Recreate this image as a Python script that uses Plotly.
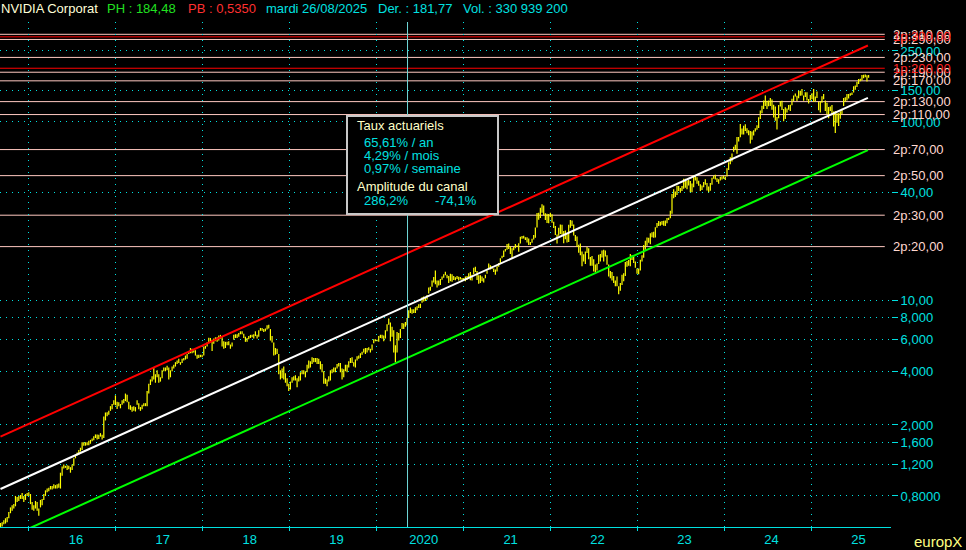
import math
import pandas as pd
import plotly.graph_objects as go

# NVIDIA weekly lows / highs (adjusted), one block per year
lows = [
    # 2015 (from 4 Sep)
    0.535, 0.54, 0.555, 0.56, 0.57, 0.60, 0.64, 0.66, 0.68, 0.70, 0.74, 0.75, 0.77, 0.77, 0.74, 0.76, 0.80,
    # 2016
    0.80, 0.72, 0.67, 0.66, 0.68, 0.66, 0.62, 0.69, 0.71, 0.76, 0.80, 0.84, 0.85, 0.87, 0.87, 0.88, 0.88, 0.88,
    0.89, 0.88, 1.04, 1.14, 1.15, 1.12, 1.13, 1.08, 1.12, 1.18, 1.30, 1.35, 1.36, 1.42, 1.45, 1.53, 1.53, 1.54,
    1.54, 1.57, 1.62, 1.64, 1.69, 1.66, 1.67, 1.72, 1.66, 1.69, 2.12, 2.24, 2.28, 2.40, 2.45, 2.60, 2.58,
    # 2017
    2.46, 2.55, 2.48, 2.60, 2.65, 2.72, 2.68, 2.45, 2.43, 2.37, 2.40, 2.38, 2.60, 2.45, 2.40, 2.45, 2.55,
    2.55, 2.55, 3.00, 3.35, 3.50, 3.60, 3.45, 3.70, 3.45, 3.50, 3.65, 4.00, 4.00, 4.05, 3.60, 3.70, 4.00,
    4.15, 4.25, 4.40, 4.45, 4.35, 4.45, 4.60, 4.65, 4.70, 5.00, 5.05, 5.05, 5.10, 4.90, 4.70, 4.75, 4.80, 4.80,
    # 2018
    4.90, 5.35, 5.50, 5.75, 5.85, 5.20, 5.70, 5.90, 5.85, 5.95, 6.10, 5.50, 5.35, 5.40, 5.60, 5.60, 5.35,
    5.50, 6.00, 6.15, 6.15, 6.25, 6.45, 6.45, 6.15, 5.85, 5.85, 6.05, 6.15, 6.20, 6.10, 6.30, 6.10, 6.25, 6.75,
    6.75, 6.65, 6.70, 6.85, 6.95, 5.95, 5.80, 4.90, 4.95, 5.00, 3.85, 3.60, 3.65, 3.60, 3.45, 3.30, 3.10,
    # 2019
    3.16, 3.45, 3.55, 3.55, 3.25, 3.50, 3.55, 3.85, 3.85, 3.70, 3.95, 4.15, 4.20, 4.40, 4.50, 4.50, 4.40,
    4.40, 4.10, 3.95, 3.40, 3.40, 3.30, 3.50, 3.55, 3.90, 3.95, 3.95, 4.15, 4.25, 3.95, 3.60, 3.70, 4.00, 3.95,
    4.20, 4.45, 4.45, 4.25, 4.20, 4.60, 4.70, 4.75, 4.95, 5.10, 5.00, 5.10, 5.25, 5.10, 5.25, 5.75, 5.90,
    # 2020
    5.90, 5.85, 6.15, 6.10, 5.90, 6.10, 6.70, 7.30, 5.90, 6.25, 5.10, 4.50, 5.10, 5.95, 6.15, 6.90, 6.90,
    7.10, 7.25, 7.95, 8.50, 8.40, 8.50, 8.50, 8.80, 9.05, 9.05, 9.70, 9.85, 9.90, 10.10, 10.90, 11.30, 11.90, 12.60,
    12.30, 11.80, 12.10, 12.20, 13.05, 13.40, 13.80, 13.30, 12.50, 12.80, 12.70, 13.00, 12.95, 13.15, 12.90, 13.10, 12.95,
    # 2021
    12.95, 12.80, 13.00, 13.20, 12.95, 12.90, 14.00, 14.40, 13.00, 12.40, 12.50, 12.80, 12.60,
    13.30, 14.10, 14.90, 14.90, 15.00, 14.40, 13.90, 14.50, 15.40, 16.00, 17.20, 17.50, 18.80,
    19.20, 19.40, 18.20, 17.20, 19.10, 19.60, 19.90, 18.70, 20.80, 22.10, 22.20, 21.80, 21.10,
    20.40, 20.40, 21.00, 21.90, 22.40, 25.60, 28.30, 28.90, 31.00, 30.00, 28.20, 27.10, 27.00, 29.30,
    # 2022
    27.20, 25.40, 23.20, 20.80, 23.00, 23.50, 23.30, 20.90, 22.00, 21.10, 21.20, 25.50,
    26.10, 23.10, 21.50, 19.90, 18.50, 17.90, 15.50, 16.50, 16.00, 18.40, 17.00, 15.60, 15.60,
    14.50, 14.40, 14.70, 16.00, 16.50, 17.40, 16.50, 17.60, 15.80, 13.60, 13.30, 12.90, 12.50, 12.00,
    12.00, 10.80, 11.30, 12.20, 12.80, 13.70, 15.40, 15.60, 15.50, 16.80, 16.20, 15.20, 14.10,
    # 2023
    14.00, 14.70, 16.50, 17.30, 19.20, 20.20, 21.00, 20.60, 22.60, 22.40, 22.50, 25.50, 26.10,
    26.20, 26.50, 26.20, 26.10, 27.00, 28.20, 28.80, 30.60, 37.30, 38.00, 39.00, 41.00, 40.10,
    41.00, 42.20, 42.70, 42.00, 44.00, 40.40, 40.30, 43.00, 47.00, 45.00, 43.90, 41.00, 41.50,
    43.00, 44.50, 41.30, 40.30, 41.10, 44.50, 48.00, 47.50, 46.00, 45.00, 47.00, 47.50, 48.00,
    # 2024
    47.30, 49.40, 53.70, 58.00, 60.00, 68.00, 70.00, 66.30, 77.60, 82.00, 85.00, 85.10, 89.00,
    86.30, 84.20, 75.60, 79.50, 84.00, 88.50, 90.50, 92.60, 104.00, 111.70, 118.00, 123.00, 118.00,
    122.60, 123.00, 117.00, 106.00, 101.40, 90.70, 105.00, 122.00, 116.70, 100.90, 104.00, 113.00, 117.00,
    115.00, 124.00, 131.00, 139.00, 131.00, 135.80, 140.00, 140.80, 131.30, 138.00, 132.00, 126.90, 132.00,
    # 2025 (to 26 Aug)
    134.00, 129.50, 130.00, 136.00, 116.30, 113.00, 128.00, 134.00, 115.00, 110.50, 104.80, 115.00, 109.10,
    94.30, 86.60, 98.90, 95.00, 104.20, 110.50, 123.00, 129.90, 132.00, 135.40, 140.00, 141.50, 146.00,
    151.50, 157.00, 163.00, 169.00, 171.00, 176.00, 178.00, 168.80, 176.80,
]

highs = [
    # 2015
    0.565, 0.57, 0.585, 0.60, 0.61, 0.65, 0.69, 0.71, 0.72, 0.80, 0.79, 0.80, 0.81, 0.83, 0.80, 0.82, 0.83,
    # 2016
    0.84, 0.82, 0.74, 0.71, 0.75, 0.74, 0.68, 0.76, 0.77, 0.82, 0.86, 0.88, 0.89, 0.91, 0.91, 0.93, 0.92, 0.93,
    0.94, 1.08, 1.17, 1.20, 1.18, 1.19, 1.18, 1.16, 1.20, 1.30, 1.36, 1.40, 1.45, 1.49, 1.60, 1.60, 1.60, 1.60,
    1.63, 1.65, 1.68, 1.73, 1.77, 1.77, 1.76, 1.80, 1.76, 2.23, 2.35, 2.36, 2.40, 2.55, 2.62, 2.75, 2.93,
    # 2017
    2.70, 2.68, 2.62, 2.75, 2.80, 3.00, 2.95, 2.70, 2.58, 2.53, 2.55, 2.52, 2.75, 2.65, 2.52, 2.60, 2.65,
    2.65, 3.10, 3.40, 3.60, 3.75, 4.20, 3.85, 4.05, 3.85, 3.70, 4.05, 4.20, 4.20, 4.30, 4.20, 4.05, 4.25,
    4.35, 4.50, 4.60, 4.70, 4.50, 4.70, 4.75, 4.90, 5.00, 5.15, 5.40, 5.35, 5.25, 5.25, 4.95, 4.95, 4.95, 4.95,
    # 2018
    5.50, 5.55, 5.80, 6.17, 6.15, 6.00, 6.10, 6.20, 6.20, 6.35, 6.40, 6.30, 5.90, 5.85, 5.85, 5.90, 5.65,
    5.80, 6.40, 6.45, 6.45, 6.55, 6.70, 6.70, 6.50, 6.25, 6.15, 6.30, 6.40, 6.40, 6.45, 6.70, 6.40, 6.80, 7.00,
    7.00, 6.90, 6.95, 7.25, 7.30, 6.90, 6.30, 5.80, 5.40, 5.35, 5.00, 4.05, 4.15, 4.25, 3.90, 3.65, 3.40,
    # 2019
    3.50, 3.70, 3.75, 3.80, 3.65, 3.75, 3.95, 4.05, 4.05, 4.00, 4.35, 4.60, 4.55, 4.80, 4.75, 4.75, 4.75,
    4.70, 4.55, 4.40, 4.00, 3.65, 3.60, 3.75, 4.05, 4.10, 4.20, 4.20, 4.40, 4.45, 4.45, 4.15, 4.10, 4.35, 4.35,
    4.55, 4.75, 4.80, 4.50, 4.65, 4.85, 4.90, 5.05, 5.15, 5.35, 5.40, 5.40, 5.45, 5.35, 5.65, 6.05, 6.05,
    # 2020
    6.00, 6.30, 6.40, 6.40, 6.35, 6.80, 7.35, 7.90, 7.50, 7.10, 6.80, 5.60, 6.65, 6.55, 6.90, 7.45, 7.40,
    7.55, 7.95, 8.80, 9.10, 8.90, 8.90, 9.15, 9.25, 9.50, 9.55, 10.40, 10.50, 10.45, 10.70, 11.80, 11.90, 12.90, 13.50,
    14.70, 12.90, 12.90, 13.15, 13.60, 14.00, 14.45, 13.90, 13.70, 14.10, 14.00, 13.70, 13.45, 13.70, 13.55, 13.50, 13.35,
    # 2021
    13.35, 13.60, 13.70, 14.20, 14.40, 13.90, 15.20, 15.40, 14.60, 13.80, 13.80, 13.60, 13.30,
    13.90, 14.70, 16.10, 15.70, 15.50, 15.10, 14.90, 15.50, 16.20, 17.20, 17.80, 19.00, 19.40,
    20.70, 20.80, 20.00, 19.60, 19.90, 20.70, 20.30, 20.90, 22.70, 22.90, 23.00, 22.60, 22.60,
    22.20, 21.20, 22.10, 23.20, 25.60, 30.90, 31.00, 33.00, 34.60, 34.00, 30.80, 30.60, 30.50, 31.00,
    # 2022
    30.40, 27.60, 26.10, 23.40, 25.50, 26.60, 26.50, 24.50, 24.60, 23.50, 26.50, 28.20,
    28.00, 26.60, 23.20, 22.80, 20.50, 20.80, 18.80, 18.10, 18.80, 19.90, 19.60, 17.50, 17.70,
    17.00, 15.90, 16.10, 18.00, 18.20, 19.00, 19.20, 19.00, 17.90, 15.90, 14.60, 14.40, 13.70, 12.90,
    13.60, 12.00, 12.50, 13.90, 14.20, 16.40, 16.60, 16.80, 18.20, 17.90, 17.80, 16.50, 15.10,
    # 2023
    15.10, 16.90, 17.90, 20.40, 21.60, 22.50, 22.40, 23.80, 24.10, 24.20, 25.70, 27.10, 27.80,
    27.60, 27.80, 27.90, 28.00, 28.90, 29.00, 31.80, 39.50, 41.90, 40.80, 43.90, 43.80, 42.60,
    43.80, 48.00, 48.00, 47.00, 47.30, 46.60, 45.20, 50.20, 49.80, 49.00, 46.80, 44.70, 44.00,
    46.00, 47.70, 45.40, 43.50, 45.40, 48.70, 50.00, 50.50, 48.30, 47.70, 49.30, 49.60, 49.90,
    # 2024
    49.50, 55.00, 59.50, 63.40, 66.50, 72.50, 74.60, 82.30, 82.40, 97.40, 91.90, 95.10, 97.00,
    92.20, 89.90, 89.00, 88.40, 89.90, 92.30, 95.80, 106.30, 115.80, 123.40, 131.80, 140.80, 131.40,
    131.90, 136.20, 133.40, 124.70, 122.00, 106.70, 124.40, 131.00, 131.30, 118.00, 120.70, 119.00, 124.40,
    125.00, 135.00, 140.90, 144.40, 140.00, 149.80, 149.70, 152.90, 140.60, 146.50, 146.50, 134.50, 141.40,
    # 2025
    144.90, 153.10, 138.80, 148.00, 129.80, 130.40, 139.50, 143.40, 131.70, 128.00, 121.20, 122.20, 124.40,
    114.50, 115.10, 112.00, 111.90, 114.80, 118.70, 136.00, 137.40, 143.50, 143.40, 145.00, 146.20, 158.70,
    160.00, 167.90, 174.20, 174.70, 183.30, 183.90, 184.48, 183.00, 183.20,
]

last_close = 181.77
volume = "330 939 200"
quote_day = "mardi 26/08/2025"

# regression channel
chan_dates = ["2015-09-04", "2025-08-26"]
chan_mid = [0.875, 136.5]
taux_an = 65.61          # % per year
amplitude = 286.2        # % low -> high of channel

# horizontal levels drawn by the user
levels_2p = [20, 30, 50, 70, 110, 130, 170, 190, 230, 290, 310]
levels_1p = [200, 300]

# price scale
grid_vals = [0.8, 1.2, 1.6, 2, 4, 6, 8, 10, 40, 100, 150, 250]
grid_text = ["0,8000", "1,200", "1,600", "2,000", "4,000", "6,000", "8,000",
             "10,00", "40,00", "100,00", "150,00", "250,00"]

year_starts = [f"{y}-01-01" for y in range(2016, 2026)]
year_label_pos = [f"{y}-07-17" for y in range(2016, 2026)]
year_labels = ["16", "17", "18", "19", "2020", "21", "22", "23", "24", "25"]

CYAN = "#00e0e0"
PINK = "#ffc8c0"
FONT = "Arial, Liberation Sans, sans-serif"


def fr(v, nd=2):
    return f"{v:.{nd}f}".replace(".", ",")


week_dates = pd.date_range("2015-09-04", periods=len(lows), freq="W-FRI")

bar_x, bar_y = [], []
for d, lo, hi in zip(week_dates, lows, highs):
    bar_x += [d, d, None]
    bar_y += [lo, hi, None]

half = math.sqrt(1 + amplitude / 100)
chan_up = [v * half for v in chan_mid]
chan_dn = [v / half for v in chan_mid]

fig = go.Figure()
fig.add_trace(go.Scatter(x=bar_x, y=bar_y, mode="lines",
                         line=dict(color="#ffff00", width=1.2), hoverinfo="skip"))
fig.add_trace(go.Scatter(x=chan_dates, y=chan_up, mode="lines", line=dict(color="#ff0000", width=2)))
fig.add_trace(go.Scatter(x=chan_dates, y=chan_mid, mode="lines", line=dict(color="#ffffff", width=2)))
fig.add_trace(go.Scatter(x=chan_dates, y=chan_dn, mode="lines", line=dict(color="#00ff00", width=2)))

# level lines + labels on the right
for v in levels_2p:
    fig.add_shape(type="line", xref="x domain", x0=0, x1=0.993, yref="y", y0=v, y1=v,
                  line=dict(color=PINK, width=1), layer="below")
    fig.add_annotation(text=f"2p:{fr(v)}", xref="paper", x=1, xanchor="left", xshift=0,
                       yref="y", y=math.log10(v), showarrow=False,
                       font=dict(color="#ffd8d0", size=13, family=FONT))
for v in levels_1p:
    fig.add_shape(type="line", xref="x domain", x0=0, x1=0.993, yref="y", y0=v, y1=v,
                  line=dict(color="#ff0000", width=1), layer="below")
    fig.add_annotation(text=f"1p:{fr(v)}", xref="paper", x=1, xanchor="left", xshift=0,
                       yref="y", y=math.log10(v), showarrow=False,
                       font=dict(color="#ff2020", size=13, family=FONT))

# marker line and info box
fig.add_shape(type="line", xref="x", x0="2020-05-10", x1="2020-05-10", yref="paper", y0=0, y1=1,
              line=dict(color="#70d8d8", width=1), layer="above")

W, H, TOP = 891.0, 505.0, 22.0


def px(x):
    return x / W


def py(y):
    return (TOP + H - y) / H


fig.add_shape(type="rect", xref="paper", yref="paper", x0=px(347), x1=px(498), y0=py(214), y1=py(116),
              fillcolor="black", line=dict(color="#c8c8c8", width=2), layer="above")

r = taux_an / 100
mois = ((1 + r) ** (1 / 12) - 1) * 100
sem = ((1 + r) ** (1 / 52) - 1) * 100
low_amp = (1 / (1 + amplitude / 100) - 1) * 100
box_lines = [
    ("Taux actuariels", "#ffffc8", 355, 126),
    (f"{fr(taux_an)}% / an", CYAN, 362, 142),
    (f"{fr(mois)}% / mois", CYAN, 362, 155),
    (f"{fr(sem)}% / semaine", CYAN, 362, 168.5),
    ("Amplitude du canal", "#ffffc8", 355, 186.5),
    (f"{fr(amplitude, 1)}%", CYAN, 362, 200),
    (f"{fr(low_amp, 1)}%", CYAN, 433, 200),
]
for txt, col, x, y in box_lines:
    fig.add_annotation(text=txt, xref="paper", yref="paper", x=px(x), y=py(y),
                       xanchor="left", yanchor="middle", showarrow=False,
                       font=dict(color=col, size=13, family=FONT))

# header
header = [
    ("NVIDIA Corporat", "#ffffd8", 0),
    (f"PH : {fr(max(highs))}", "#20e020", 106),
    (f"PB : {fr(min(lows), 4)}", "#ff3030", 187),
    (quote_day, CYAN, 265),
    (f"Der. : {fr(last_close)}", CYAN, 377),
    (f"Vol. : {volume}", CYAN, 462),
]
for txt, col, x in header:
    fig.add_annotation(text=txt, xref="paper", yref="paper", x=px(x) - 0.001, y=py(9),
                       xanchor="left", yanchor="middle", showarrow=False,
                       font=dict(color=col, size=13, family=FONT))

fig.add_annotation(text="europX", xref="paper", yref="paper", x=px(964), y=py(541),
                   xanchor="right", yanchor="middle", showarrow=False,
                   font=dict(color="#ffff80", size=15, family=FONT))

fig.update_layout(
    width=966, height=550,
    margin=dict(l=0, r=75, t=22, b=23),
    paper_bgcolor="black", plot_bgcolor="black",
    showlegend=False, hovermode=False,
    font=dict(family=FONT, size=13, color=CYAN),
)
fig.update_xaxes(
    type="date", range=["2015-09-02", "2025-12-01"],
    showline=True, linecolor=CYAN, linewidth=1, zeroline=False,
    tickmode="array", tickvals=year_label_pos, ticktext=year_labels,
    ticks="", showgrid=False, tickfont=dict(color=CYAN, size=13),
    minor=dict(tickmode="array", tickvals=year_starts, ticks="outside", ticklen=3,
               tickcolor=CYAN, showgrid=True, gridcolor=CYAN, griddash="1px,5px", gridwidth=1),
)
fig.update_yaxes(
    type="log", range=[math.log10(0.5358), 2.5603], side="right",
    tickmode="array", tickvals=grid_vals, ticktext=grid_text,
    ticks="outside", ticklen=6, tickcolor=CYAN, tickfont=dict(color=CYAN, size=13),
    showgrid=True, gridcolor=CYAN, griddash="1px,5px", gridwidth=1,
    showline=False, zeroline=False,
)

fig.write_html("out.html", config={"displayModeBar": False},
               post_script="document.body.style.margin='0px';document.body.style.overflow='hidden';")
